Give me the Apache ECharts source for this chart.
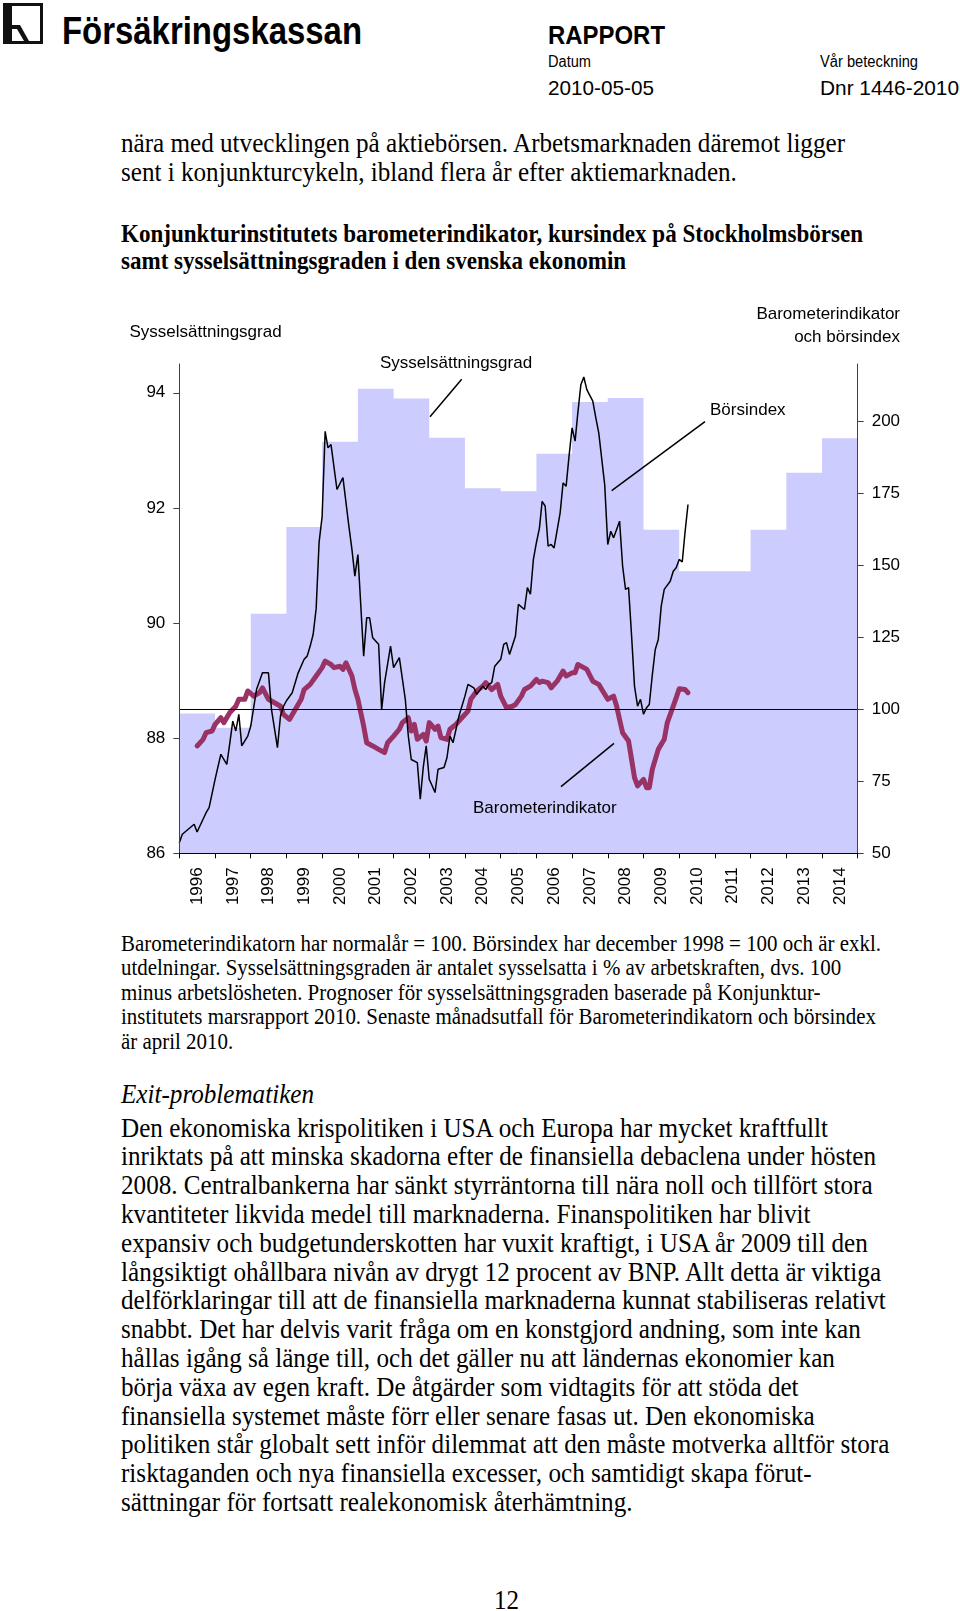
<!DOCTYPE html>
<html>
<head>
<meta charset="utf-8">
<script src="https://cdn.jsdelivr.net/npm/echarts@6/dist/echarts.min.js"></script>
<style>
  html, body { margin:0; padding:0; background:#fff; }
  #page { position:relative; width:960px; height:1611px; overflow:hidden; background:#fff; }
  .t { position:absolute; transform-origin:0 0; color:#000; }
  .l { display:block; width:max-content; white-space:nowrap; }
  .serif { font-family:"Liberation Serif","Times New Roman",serif; }
  .sans { font-family:"Liberation Sans",Arial,sans-serif; }
  #chart { position:absolute; left:0; top:280px; width:960px; height:640px; }
</style>
</head>
<body>
<div id="page">
  <svg style="position:absolute;left:3px;top:3px" width="40" height="41" viewBox="0 0 40 41">
    <rect x="0" y="0" width="40" height="41" fill="#111"/>
    <polygon points="9,3 37,3 37,38 26,38 17,22 9,22" fill="#fff"/>
    <polygon points="9,26 14,26 21,38 9,38" fill="#fff"/>
  </svg>
  <div class="t sans" data-w="300" style="left:62px;top:10px;font-size:38px;line-height:42px;font-weight:bold;"><span class="l">Försäkringskassan</span></div>
  <div class="t sans" data-w="117" style="left:548px;top:20px;font-size:25px;line-height:30px;font-weight:bold;"><span class="l">RAPPORT</span></div>
  <div class="t sans" data-w="43" style="left:548px;top:52px;font-size:16px;line-height:20px;"><span class="l">Datum</span></div>
  <div class="t sans" data-w="98" style="left:820px;top:52px;font-size:16px;line-height:20px;"><span class="l">Vår beteckning</span></div>
  <div class="t sans" data-w="106" style="left:548px;top:75px;font-size:21px;line-height:26px;"><span class="l">2010-05-05</span></div>
  <div class="t sans" data-w="139" style="left:820px;top:75px;font-size:21px;line-height:26px;"><span class="l">Dnr 1446-2010</span></div>

  <div class="t serif" data-w="724" style="left:121px;top:128.5px;font-size:27px;line-height:29px;">
    <span class="l">nära med utvecklingen på aktiebörsen. Arbetsmarknaden däremot ligger</span>
    <span class="l">sent i konjunkturcykeln, ibland flera år efter aktiemarknaden.</span>
  </div>
  <div class="t serif" data-w="742" style="left:121px;top:219.5px;font-size:25px;line-height:27px;font-weight:bold;">
    <span class="l">Konjunkturinstitutets barometerindikator, kursindex på Stockholmsbörsen</span>
    <span class="l">samt sysselsättningsgraden i den svenska ekonomin</span>
  </div>

  <div id="chart"></div>

  <div class="t serif" data-w="760" style="left:121px;top:931.75px;font-size:23px;line-height:24.5px;">
    <span class="l">Barometerindikatorn har normalår = 100. Börsindex har december 1998 = 100 och är exkl.</span>
    <span class="l">utdelningar. Sysselsättningsgraden är antalet sysselsatta i % av arbetskraften, dvs. 100</span>
    <span class="l">minus arbetslösheten. Prognoser för sysselsättningsgraden baserade på Konjunktur-</span>
    <span class="l">institutets marsrapport 2010. Senaste månadsutfall för Barometerindikatorn och börsindex</span>
    <span class="l">är april 2010.</span>
  </div>
  <div class="t serif" data-w="193" style="left:121px;top:1079.5px;font-size:27px;line-height:29px;font-style:italic;"><span class="l">Exit-problematiken</span></div>
  <div class="t serif" data-w="707" style="left:121px;top:1113.6px;font-size:27px;line-height:28.8px;">
    <span class="l">Den ekonomiska krispolitiken i USA och Europa har mycket kraftfullt</span>
    <span class="l">inriktats på att minska skadorna efter de finansiella debaclena under hösten</span>
    <span class="l">2008. Centralbankerna har sänkt styrräntorna till nära noll och tillfört stora</span>
    <span class="l">kvantiteter likvida medel till marknaderna. Finanspolitiken har blivit</span>
    <span class="l">expansiv och budgetunderskotten har vuxit kraftigt, i USA år 2009 till den</span>
    <span class="l">långsiktigt ohållbara nivån av drygt 12 procent av BNP. Allt detta är viktiga</span>
    <span class="l">delförklaringar till att de finansiella marknaderna kunnat stabiliseras relativt</span>
    <span class="l">snabbt. Det har delvis varit fråga om en konstgjord andning, som inte kan</span>
    <span class="l">hållas igång så länge till, och det gäller nu att ländernas ekonomier kan</span>
    <span class="l">börja växa av egen kraft. De åtgärder som vidtagits för att stöda det</span>
    <span class="l">finansiella systemet måste förr eller senare fasas ut. Den ekonomiska</span>
    <span class="l">politiken står globalt sett inför dilemmat att den måste motverka alltför stora</span>
    <span class="l">risktaganden och nya finansiella excesser, och samtidigt skapa förut-</span>
    <span class="l">sättningar för fortsatt realekonomisk återhämtning.</span>
  </div>
  <div class="t serif" data-w="25" style="left:494px;top:1585.5px;font-size:27px;line-height:29px;"><span class="l">12</span></div>
</div>

<script>
// ---------- data ----------
const years = ['1996','1997','1998','1999','2000','2001','2002','2003','2004','2005',
               '2006','2007','2008','2009','2010','2011','2012','2013','2014'];
// Sysselsättningsgrad (%), annual, incl. forecasts 2010-2014
const employment = [88.43, 88.18, 90.16, 91.67, 93.15, 94.07, 93.90, 93.22, 92.34, 92.29,
                    92.94, 93.84, 93.91, 91.62, 90.90, 90.90, 91.62, 92.61, 93.21];

// Börsindex (dec 1998 = 100)
const borsMonths = ['1996-01','1996-02','1996-06','1996-07','1996-10','1996-11','1997-01','1997-03','1997-05','1997-06',
  '1997-07','1997-08','1997-09','1997-10','1997-12','1998-01','1998-03','1998-05','1998-07','1998-08',
  '1998-10','1998-11','1998-12','1999-01','1999-03','1999-05','1999-07','1999-08','1999-09','1999-10',
  '1999-11','1999-12','2000-01','2000-02','2000-03','2000-04','2000-06','2000-08','2000-10','2000-11',
  '2000-12','2001-01','2001-03','2001-04','2001-05','2001-06','2001-08','2001-09','2001-10','2001-12',
  '2002-01','2002-03','2002-05','2002-06','2002-07','2002-09','2002-10','2002-11','2002-12','2003-01',
  '2003-02','2003-03','2003-04','2003-06','2003-07','2003-08','2003-09','2003-11','2004-01','2004-02',
  '2004-04','2004-05','2004-07','2004-08','2004-09','2004-10','2004-11','2005-01','2005-02','2005-03',
  '2005-04','2005-06','2005-07','2005-09','2005-10','2005-11','2005-12','2006-01','2006-02','2006-03',
  '2006-04','2006-05','2006-06','2006-07','2006-09','2006-10','2006-11','2006-12','2007-01','2007-02',
  '2007-03','2007-04','2007-05','2007-06','2007-08','2007-09','2007-10','2007-12','2008-01','2008-02',
  '2008-03','2008-05','2008-06','2008-07','2008-08','2008-09','2008-10','2008-11','2008-12','2009-01',
  '2009-02','2009-03','2009-04','2009-05','2009-06','2009-07','2009-08','2009-10','2009-11','2009-12',
  '2010-01','2010-02','2010-03','2010-04'];
const borsValues = [53.7,56.6,60.1,57.4,64.1,65.9,75.7,84.4,80.9,88.4,
  95.9,92.5,98.3,87.3,90.7,94.2,106.9,112.7,112.7,100,
  86.7,97.7,101,103,105.8,112.7,117.4,118.5,122,126,
  135,158,167,196.6,190.9,192,176.4,180.5,163.6,155.6,
  146.3,153.8,118.5,131.8,131.8,124.9,122.6,100,109.3,122,
  114.5,118,103.5,90.7,82.6,81.5,68.8,80,87.3,75.7,
  73.4,71.1,79.2,79.8,83.2,90.7,88.4,97.7,104.6,108.7,
  107.5,105.2,108.1,106.9,108.7,109.3,115,117.4,122.6,123.2,
  119.1,125.5,136.5,134.7,142.3,140,152,157.9,163,172.3,
  170.6,156.7,157.3,156.1,168.3,178.7,177.5,188,197.8,193.2,
  203,212.8,215.5,211.1,207.1,201.3,196.1,178,157.3,161.9,
  159.6,165.4,149.8,141.7,142.3,125.5,108,101.1,103.5,98.3,
  100.6,101.7,112,120.8,124.3,135.9,141.7,144.5,148,149.2,
  152.1,151.2,161.3,171.2];

// Barometerindikator (normalår = 100)
const baroMonths = ['1996-07','1996-09','1996-10','1996-12','1997-01','1997-03','1997-04','1997-06','1997-08','1997-09',
  '1997-11','1997-12','1998-02','1998-04','1998-05','1998-07','1998-09','1998-11','1998-12','1999-02',
  '1999-04','1999-06','1999-07','1999-09','1999-11','2000-01','2000-02','2000-04','2000-05','2000-07',
  '2000-08','2000-09','2000-11','2000-12','2001-01','2001-03','2001-04','2001-06','2001-08','2001-10',
  '2001-11','2002-01','2002-03','2002-04','2002-06','2002-07','2002-08','2002-09','2002-11','2002-12',
  '2003-01','2003-03','2003-04','2003-05','2003-07','2003-08','2003-10','2003-12','2004-02','2004-03',
  '2004-05','2004-07','2004-08','2004-10','2004-12','2005-01','2005-03','2005-05','2005-06','2005-08',
  '2005-09','2005-11','2006-01','2006-02','2006-03','2006-05','2006-06','2006-08','2006-10','2006-11',
  '2007-01','2007-02','2007-03','2007-05','2007-06','2007-08','2007-10','2007-11','2008-01','2008-03',
  '2008-04','2008-05','2008-06','2008-08','2008-09','2008-10','2008-11','2009-01','2009-02','2009-03',
  '2009-04','2009-06','2009-08','2009-09','2009-11','2009-12','2010-01','2010-03','2010-04'];
const baroValues = [87.3,89.6,91.9,92.5,94.8,97.1,95.4,98.9,101.1,103.5,
  103.5,106.4,104.6,105.8,107.5,103.5,102.3,101.1,98.3,96.5,
  100,103.5,106.9,108.7,111.6,114.5,116.8,115.6,114.5,115,
  113.9,116.2,111.6,107,103.5,94.2,88.4,87.3,86.1,85,
  88.4,90.7,93.1,95.4,97.1,92.5,94.8,89.6,91.3,89,
  95.4,93.1,94.2,90.2,89.6,93.1,94.8,97.1,99.4,103.5,
  106.4,108.1,109.3,106.9,108.7,104.6,100.6,101.1,101.7,104.6,
  106.9,108.1,110.4,109.3,109.8,109.3,107.5,109.8,113.3,111.6,
  112.7,112.7,115.6,114.5,113.9,109.8,108.7,106.9,103.5,104.6,
  101.1,96.5,91.9,89,82.6,76.3,73.4,75.7,72.8,72.8,
  79.2,86.1,89.6,95.4,101.1,104,107.2,106.9,105.8];

const leftTicks = [86, 88, 90, 92, 94];
const rightTicks = [50, 75, 100, 125, 150, 175, 200];
const normalLevel = 100;

// ---------- text fitting for page text ----------
function fitText() {
  const els = Array.from(document.querySelectorAll('[data-w]'));
  const ks = els.map(el => {
    const first = el.querySelector('.l');
    const w = first.getBoundingClientRect().width;
    return (+el.dataset.w) / w;
  });
  els.forEach((el, i) => { el.style.transform = 'scaleX(' + ks[i] + ')'; });
}
fitText();

// ---------- chart ----------
const empData = years.map((y, i) => [y + '-01-01', employment[i]]);
empData.push([(+years[years.length - 1] + 1) + '-01-01', employment[employment.length - 1]]);
const borsData = borsMonths.map((m, i) => [m, borsValues[i]]);
const baroData = baroMonths.map((m, i) => [m, baroValues[i]]);

const FONT = '"Liberation Sans", Arial, sans-serif';
const chart = echarts.init(document.getElementById('chart'));
chart.setOption({
  animation: false,
  grid: { left: 179.3, right: 102.3, top: 84, bottom: 66.7, outerBoundsMode: 'none' },
  xAxis: [
    {
      type: 'category', data: years, boundaryGap: true, position: 'bottom', z: 10,
      axisLine: { lineStyle: { color: '#000', width: 1 } },
      axisTick: { show: true, length: 5, lineStyle: { color: '#000' } },
      axisLabel: { rotate: 90, interval: 0, fontSize: 17, fontFamily: FONT, color: '#000', margin: 14 },
      splitLine: { show: false }
    },
    { type: 'time', min: '1996-01-01', max: '2015-01-01', show: false }
  ],
  yAxis: [
    {
      type: 'value', min: 86, max: 94.5, position: 'left', z: 10,
      axisLine: { show: true, lineStyle: { color: '#404040', width: 1 } },
      axisTick: { show: true, length: 6, customValues: leftTicks, lineStyle: { color: '#404040' } },
      axisLabel: { customValues: leftTicks, fontSize: 17, fontFamily: FONT, color: '#000', margin: 14 },
      splitLine: { show: false }
    },
    {
      type: 'value', min: 50, max: 220, position: 'right', z: 10,
      axisLine: { show: true, lineStyle: { color: '#404040', width: 1 } },
      axisTick: { show: true, length: 6, customValues: rightTicks, lineStyle: { color: '#404040' } },
      axisLabel: { customValues: rightTicks, fontSize: 17, fontFamily: FONT, color: '#000', margin: 14 },
      splitLine: { show: false }
    }
  ],
  series: [
    {
      name: 'Sysselsättningsgrad', type: 'line', step: 'end', xAxisIndex: 1, yAxisIndex: 0,
      data: empData, symbol: 'none', silent: true, z: 1,
      lineStyle: { width: 0, opacity: 0 },
      areaStyle: { color: '#ccccff', opacity: 1, origin: 'start' }
    },
    {
      name: 'Barometerindikator', type: 'line', xAxisIndex: 1, yAxisIndex: 1,
      data: baroData, symbol: 'none', silent: true, z: 3,
      lineStyle: { color: '#993366', width: 5, join: 'round', cap: 'round' }
    },
    {
      name: 'Börsindex', type: 'line', xAxisIndex: 1, yAxisIndex: 1,
      data: borsData, symbol: 'none', silent: true, z: 4,
      lineStyle: { color: '#000', width: 1.5 },
      markLine: {
        silent: true, symbol: ['none', 'none'], label: { show: false },
        lineStyle: { color: '#000', width: 1.2, type: 'solid' },
        data: [{ yAxis: normalLevel }]
      }
    }
  ],
  graphic: [
    { type: 'text', style: { text: 'Sysselsättningsgrad', x: 129.5, y: 52, fill: '#000', font: '17px ' + FONT, textAlign: 'left', textVerticalAlign: 'middle', align: 'left', verticalAlign: 'middle' } },
    { type: 'text', style: { text: 'Barometerindikator', x: 900, y: 34.5, fill: '#000', font: '17px ' + FONT, textAlign: 'right', textVerticalAlign: 'middle', align: 'right', verticalAlign: 'middle' } },
    { type: 'text', style: { text: 'och börsindex', x: 900, y: 57, fill: '#000', font: '17px ' + FONT, textAlign: 'right', textVerticalAlign: 'middle', align: 'right', verticalAlign: 'middle' } },
    { type: 'text', z: 20, style: { text: 'Sysselsättningsgrad', x: 380, y: 83, fill: '#000', font: '17px ' + FONT, textAlign: 'left', textVerticalAlign: 'middle', align: 'left', verticalAlign: 'middle' } },
    { type: 'text', z: 20, style: { text: 'Börsindex', x: 710, y: 130, fill: '#000', font: '17px ' + FONT, textAlign: 'left', textVerticalAlign: 'middle', align: 'left', verticalAlign: 'middle' } },
    { type: 'text', z: 20, style: { text: 'Barometerindikator', x: 473, y: 528, fill: '#000', font: '17px ' + FONT, textAlign: 'left', textVerticalAlign: 'middle', align: 'left', verticalAlign: 'middle' } },
    { type: 'line', z: 20, shape: { x1: 430, y1: 136.7, x2: 461.7, y2: 99.3 }, style: { stroke: '#000', lineWidth: 1.5 } },
    { type: 'line', z: 20, shape: { x1: 611.7, y1: 210.7, x2: 705, y2: 141.7 }, style: { stroke: '#000', lineWidth: 1.5 } },
    { type: 'line', z: 20, shape: { x1: 561, y1: 506.7, x2: 614, y2: 463.3 }, style: { stroke: '#000', lineWidth: 1.5 } }
  ]
});
</script>
</body>
</html>
